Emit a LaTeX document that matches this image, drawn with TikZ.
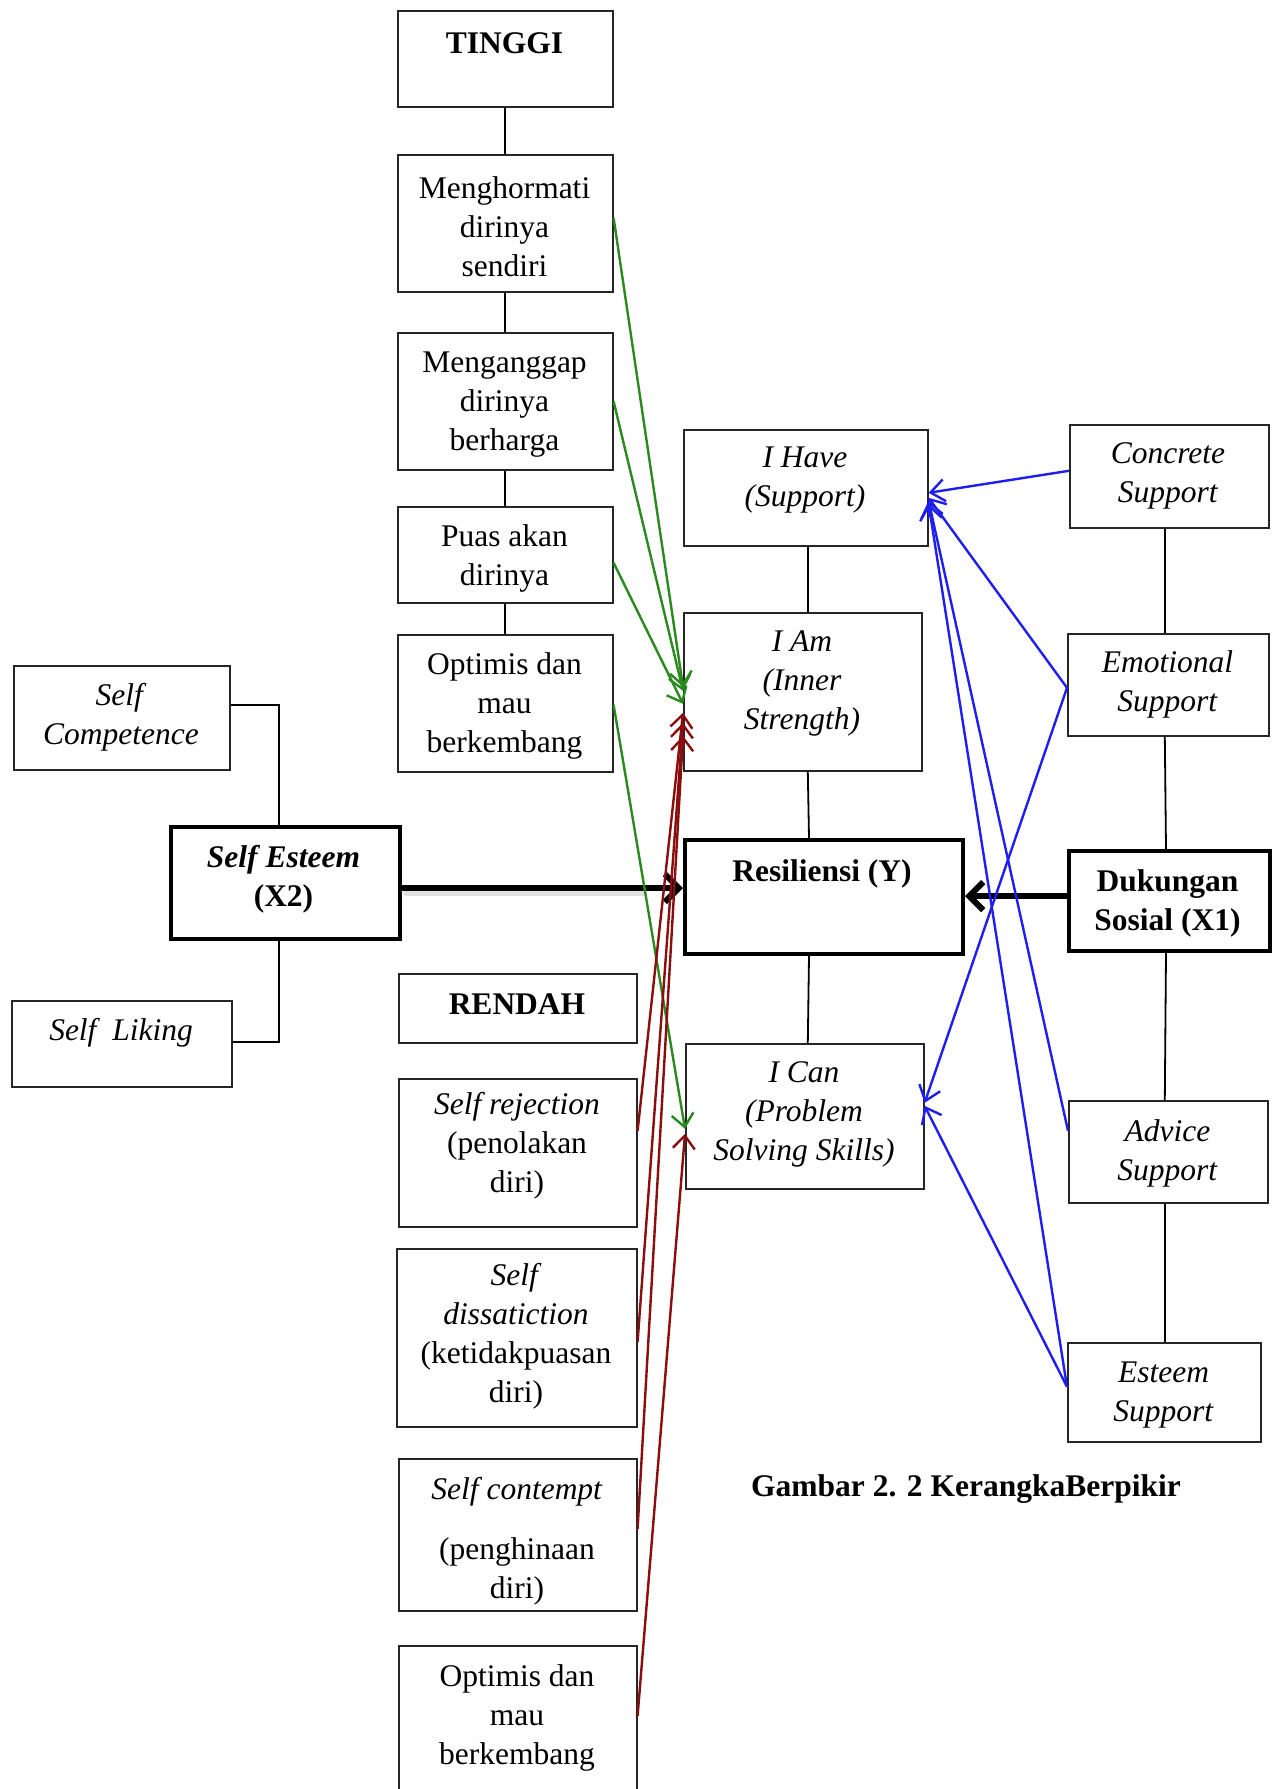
\documentclass[tikz,border=0pt]{standalone}
\usepackage{fontspec}
\setmainfont{Liberation Serif}
\usetikzlibrary{arrows.meta,backgrounds}
\definecolor{sgreen}{HTML}{2A8A1E}
\definecolor{sred}{HTML}{8B0E0E}
\definecolor{sblue}{HTML}{1E1EF0}
\begin{document}
\begin{tikzpicture}[x=1pt,y=-1pt,
  box/.style={draw=black!85, line width=1.6pt, fill=white, inner sep=0pt, anchor=north west},
  thickbox/.style={box, draw=black, line width=4pt},
  txt/.style={align=center, inner sep=0pt, yshift=-3pt, font=\fontsize{31.5}{39}\selectfont},
  link/.style={draw=black, line width=1.8pt},
  garrow/.style={draw=sgreen, line width=2.4pt, -{Straight Barb[length=13pt,width=22pt]}},
  rarrow/.style={draw=sred, line width=2.4pt, -{Straight Barb[length=13pt,width=22pt]}},
  barrow/.style={draw=sblue, line width=2.4pt, -{Straight Barb[length=14pt,width=22pt]}},
  bigarrow/.style={draw=black, line width=6pt, -{Straight Barb[length=14pt,width=28pt]}}
]
\useasboundingbox (0,0) rectangle (1275,1789);
\fill[white] (0,0) rectangle (1275,1789);

% left column (TINGGI)
\node[box, minimum width=215pt, minimum height=96pt] (tinggi) at (397,10) {};
\node[txt] (tinggiT) at (504.5,40) {\bfseries TINGGI};
\node[box, minimum width=215pt, minimum height=137pt] (mengh) at (397,154) {};
\node[txt] (menghT) at (504.5,224) {Menghormati\\dirinya\\sendiri};
\node[box, minimum width=215pt, minimum height=137pt] (mengan) at (397,332) {};
\node[txt] (menganT) at (504.5,402) {Menganggap\\dirinya\\berharga};
\node[box, minimum width=215pt, minimum height=96pt] (puas) at (397,506) {};
\node[txt] (puasT) at (504.5,555) {Puas akan\\dirinya};
\node[box, minimum width=215pt, minimum height=137pt] (optA) at (397,634) {};
\node[txt] (optAT) at (504.5,703) {Optimis dan\\mau\\berkembang};

% left column (RENDAH)
\node[box, minimum width=238pt, minimum height=69pt] (rendah) at (398,973) {};
\node[txt] (rendahT) at (517,1001) {\bfseries RENDAH};
\node[box, minimum width=238pt, minimum height=148pt] (srej) at (398,1078) {};
\node[txt] (srejT) at (517,1143) {\textit{Self rejection}\\(penolakan\\diri)};
\node[box, minimum width=240pt, minimum height=178pt] (sdis) at (396,1248) {};
\node[txt] (sdisT) at (516,1333) {\textit{Self}\\\textit{dissatiction}\\(ketidakpuasan\\diri)};
\node[box, minimum width=238pt, minimum height=152pt] (scon) at (398,1458) {};
\node[txt] (sconT1) at (517,1489) {\textit{Self contempt}};
\node[txt] (sconT2) at (517,1568) {(penghinaan\\diri)};
\node[box, minimum width=238pt, minimum height=160pt] (optB) at (398,1645) {};
\node[txt] (optBT) at (517,1715) {Optimis dan\\mau\\berkembang};

% Self esteem group
\node[box, minimum width=216pt, minimum height=104pt] (scomp) at (13,665) {};
\node[txt] (scompT) at (121,714.5) {\textit{Self}\\\textit{Competence}};
\node[box, minimum width=220pt, minimum height=86pt] (sliking) at (11,1000) {};
\node[txt] (slikingT) at (121,1030) {\textit{Self\ \ Liking}};

% center column
\node[box, minimum width=244pt, minimum height=116pt] (ihave) at (683,429) {};
\node[txt] (ihaveT) at (805,477.5) {\textit{I Have}\\\textit{(Support)}};
\node[box, minimum width=238pt, minimum height=158pt] (iam) at (683,612) {};
\node[txt] (iamT) at (802,680) {\textit{I Am}\\\textit{(Inner}\\\textit{Strength)}};
\node[thickbox, minimum width=278pt, minimum height=114pt] (resil) at (683,838) {};
\node[txt] (resilT) at (822,871) {\bfseries Resiliensi (Y)};
\node[box, minimum width=238pt, minimum height=145pt] (ican) at (685,1043) {};
\node[txt] (icanT) at (804,1111) {\textit{I Can}\\\textit{(Problem}\\\textit{Solving Skills)}};

% right column
\node[box, minimum width=199pt, minimum height=103pt] (concrete) at (1069,424) {};
\node[txt] (concreteT) at (1168,473) {\textit{Concrete}\\\textit{Support}};
\node[box, minimum width=201pt, minimum height=102pt] (emotional) at (1067,633) {};
\node[txt] (emotionalT) at (1167.5,681.5) {\textit{Emotional}\\\textit{Support}};
\node[thickbox, minimum width=201pt, minimum height=100pt] (duk) at (1067,849) {};
\node[txt] (dukT) at (1167.5,900.5) {\bfseries Dukungan\\\bfseries Sosial (X1)};
\node[box, minimum width=199pt, minimum height=102pt] (advice) at (1068,1100) {};
\node[txt] (adviceT) at (1167.5,1150) {\textit{Advice}\\\textit{Support}};
\node[box, minimum width=193pt, minimum height=99pt] (esteem) at (1067,1342) {};
\node[txt] (esteemT) at (1163.5,1392) {\textit{Esteem}\\\textit{Support}};

% Self esteem (drawn over trunk)
\begin{scope}[on background layer]
  \draw[link] ([yshift=-1pt]tinggi.west) -- ++(-69,0) |- ([yshift=9pt]optB.west);
\end{scope}
\node[thickbox, minimum width=229pt, minimum height=112pt] (sest) at (169,825) {};
\node[txt] (sestT) at (283.5,876.5) {\textbf{\textit{Self Esteem}}\\\textbf{(X2)}};

% caption
\node[txt] (caption) at (966,1486) {\bfseries Gambar 2. 2 KerangkaBerpikir};

% black links
\draw[link] (tinggi) -- (mengh);
\draw[link] (mengh) -- (mengan);
\draw[link] (mengan) -- (puas);
\draw[link] (puas) -- (optA);
\draw[link] ([yshift=13pt]scomp.east) -| ([xshift=-6.5pt]sest.north);
\draw[link] ([yshift=2pt]sliking.east) -| ([xshift=-6.5pt]sest.south);
\draw[link] ([xshift=2pt]ihave.south) -- ([xshift=5pt]iam.north);
\draw[link] ([xshift=5pt]iam.south) -- ([xshift=-15pt]resil.north);
\draw[link] ([xshift=-15pt]resil.south) -- ([xshift=3pt]ican.north);
\draw[link] ([xshift=-4.5pt]concrete.south) -- ([xshift=-3.5pt]emotional.north);
\draw[link] ([xshift=-3.5pt]emotional.south) -- ([xshift=-3.5pt]duk.north);
\draw[link] ([xshift=-3.5pt]duk.south) -- ([xshift=-3.5pt]advice.north);
\draw[link] ([xshift=-3.5pt]advice.south) -- ([xshift=0.5pt]esteem.north);

% thick arrows
\draw[line width=6pt, black!12, line cap=round] ([yshift=-10pt, xshift=4pt]sest.east) -- ([yshift=4pt, xshift=-40pt]resil.west);
\draw[bigarrow] ([yshift=-5pt]sest.east) -- ([yshift=9pt]resil.west);
\draw[bigarrow] ([yshift=5pt]duk.west) -- ([yshift=1pt]resil.east);

% green arrows
\draw[garrow] ([yshift=5.5pt]mengh.east) -- ([yshift=5pt]iam.west);
\draw[garrow] (mengan.east) -- ([yshift=1pt]iam.west);
\draw[garrow] ([yshift=-8pt]puas.east) -- ([yshift=-12pt]iam.west);
\draw[garrow] ([yshift=-1.5pt]optA.east) -- ([yshift=-12.5pt]ican.west);

% red arrows
\draw[rarrow] ([yshift=22pt]srej.east) -- ([yshift=-21pt]iam.west);
\draw[rarrow] ([yshift=-4pt]sdis.east) -- ([yshift=-31pt]iam.west);
\draw[rarrow] ([yshift=6pt]scon.east) -- ([yshift=-44pt]iam.west);
\draw[rarrow] ([yshift=10pt]optB.east) -- ([yshift=-17.5pt]ican.west);

% blue arrows
\draw[barrow] ([yshift=5.5pt]concrete.west) -- ([yshift=-5pt]ihave.east);
\draw[barrow] ([yshift=-3pt]emotional.west) -- ([yshift=-10pt]ihave.east);
\draw[barrow] ([yshift=-3pt]emotional.west) -- ([yshift=13.5pt]ican.east);
\draw[barrow] ([yshift=21pt]advice.west) -- ([yshift=-13pt]ihave.east);
\draw[barrow] ([yshift=5.5pt]esteem.west) -- ([yshift=-16pt]ihave.east);
\draw[barrow] ([yshift=5.5pt]esteem.west) -- ([yshift=10.5pt]ican.east);
\end{tikzpicture}
\end{document}
